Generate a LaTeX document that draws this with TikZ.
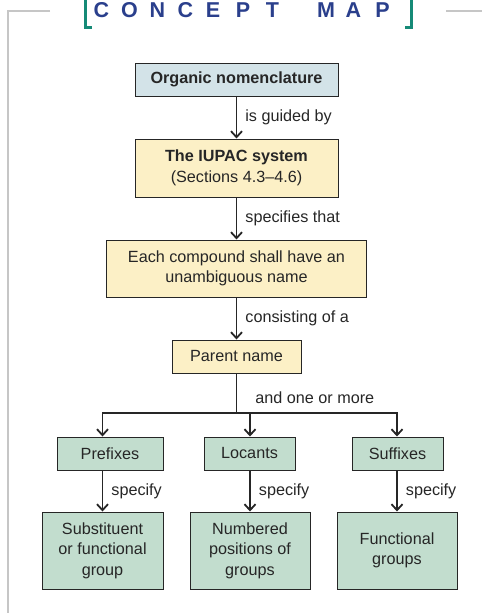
\documentclass[tikz,border=0pt]{standalone}
\usepackage{fontspec}
\setmainfont{Liberation Sans}
\usetikzlibrary{arrows.meta,positioning}

\definecolor{mapblue}{HTML}{D3E3E8}
\definecolor{mapyellow}{HTML}{FCF0C6}
\definecolor{mapgreen}{HTML}{C2DDCE}
\definecolor{titleblue}{HTML}{2A3F8C}
\definecolor{brackteal}{HTML}{168A77}
\definecolor{framegray}{HTML}{C6C6C6}
\definecolor{ink}{HTML}{262626}

\begin{document}
\begin{tikzpicture}[x=1pt, y=-1pt,
    font=\fontsize{16.2}{20.5}\selectfont, text=ink,
    box/.style={draw=ink, line width=1pt, align=center, inner sep=2pt},
    bluebox/.style={box, fill=mapblue},
    yellowbox/.style={box, fill=mapyellow},
    greenbox/.style={box, fill=mapgreen},
    link/.style={draw=ink, line width=1.8pt, -{Straight Barb[length=6pt, width=11pt, line width=1.8pt]}},
    lbl/.style={right=8pt, inner sep=0pt, text=ink}]
    \useasboundingbox (0,0) rectangle (482,613);

    % frame and heading
    \draw[framegray, line width=1.6pt] (50,11) -- (8,11) -- (8,613);
    \draw[framegray, line width=1.6pt] (446,11) -- (482,11);
    \draw[brackteal, line width=3pt] (85.5,-2) -- (85.5,27.3) -- (92,27.3);
    \draw[brackteal, line width=3pt] (411.3,-2) -- (411.3,27.3) -- (405,27.3);
    \foreach \ch/\cx [count=\i] in {C/101.5, O/129.5, N/157.5, C/185.5, E/213,
                                   P/243, T/272.5, M/326, A/353.5, P/382.5}
        \node[anchor=base, text=titleblue, inner sep=0pt,
              font=\fontsize{21.5}{21.5}\selectfont\bfseries] (title\i) at (\cx,17) {\ch};

    % main column
    \node[bluebox, minimum width=203pt, minimum height=33pt] (org) at (236.5,79.5)
        {\textbf{Organic nomenclature}};
    \node[yellowbox, minimum width=203pt, minimum height=58pt, below=42pt of org] (iupac)
        {\textbf{The IUPAC system}\\(Sections 4.3--4.6)};
    \node[yellowbox, minimum width=260pt, minimum height=57pt, below=42pt of iupac] (each)
        {Each compound shall have an\\unambiguous name};
    \node[yellowbox, minimum width=129pt, minimum height=33pt, below=42pt of each] (parent)
        {Parent name};

    % the three parts
    \node[greenbox, minimum width=106pt, minimum height=33pt] (pre) at (110,453.5) {Prefixes};
    \node[greenbox, minimum width=91pt, minimum height=33pt] (loc) at (249.5,453.5) {Locants};
    \node[greenbox, minimum width=91pt, minimum height=33pt] (suf) at (397.5,453.5) {Suffixes};

    % what they specify
    \node[greenbox, minimum width=121pt, minimum height=77pt] (sub) at (102.5,550.5)
        {Substituent\\or functional\\group};
    \node[greenbox, minimum width=120pt, minimum height=77pt] (num) at (250,550.5)
        {Numbered\\positions of\\groups};
    \node[greenbox, minimum width=120pt, minimum height=77pt] (fun) at (397,550.5)
        {Functional\\groups};

    \draw[link] (org) -- node[lbl]{is guided by} (iupac);
    \draw[link] (iupac) -- node[lbl]{specifies that} (each);
    \draw[link] (each) -- node[lbl]{consisting of a} (parent);

    \coordinate (split) at (parent.south |- 0,413.3);
    \draw[draw=ink, line width=1.8pt] (parent.south) -- node[pos=0.62, right=18pt, inner sep=0pt]{and one or more} (split);
    \draw[draw=ink, line width=1.8pt, line cap=rect] (sub.north |- split) -- (fun.north |- split);
    \draw[link] (sub.north |- split) -- (sub.north |- pre.north);
    \draw[link] (num.north |- split) -- (num.north |- loc.north);
    \draw[link] (fun.north |- split) -- (fun.north |- suf.north);

    \draw[link] (sub.north |- pre.south) -- node[lbl]{specify} (sub.north);
    \draw[link] (num.north |- loc.south) -- node[lbl]{specify} (num.north);
    \draw[link] (fun.north |- suf.south) -- node[lbl]{specify} (fun.north);
\end{tikzpicture}
\end{document}
